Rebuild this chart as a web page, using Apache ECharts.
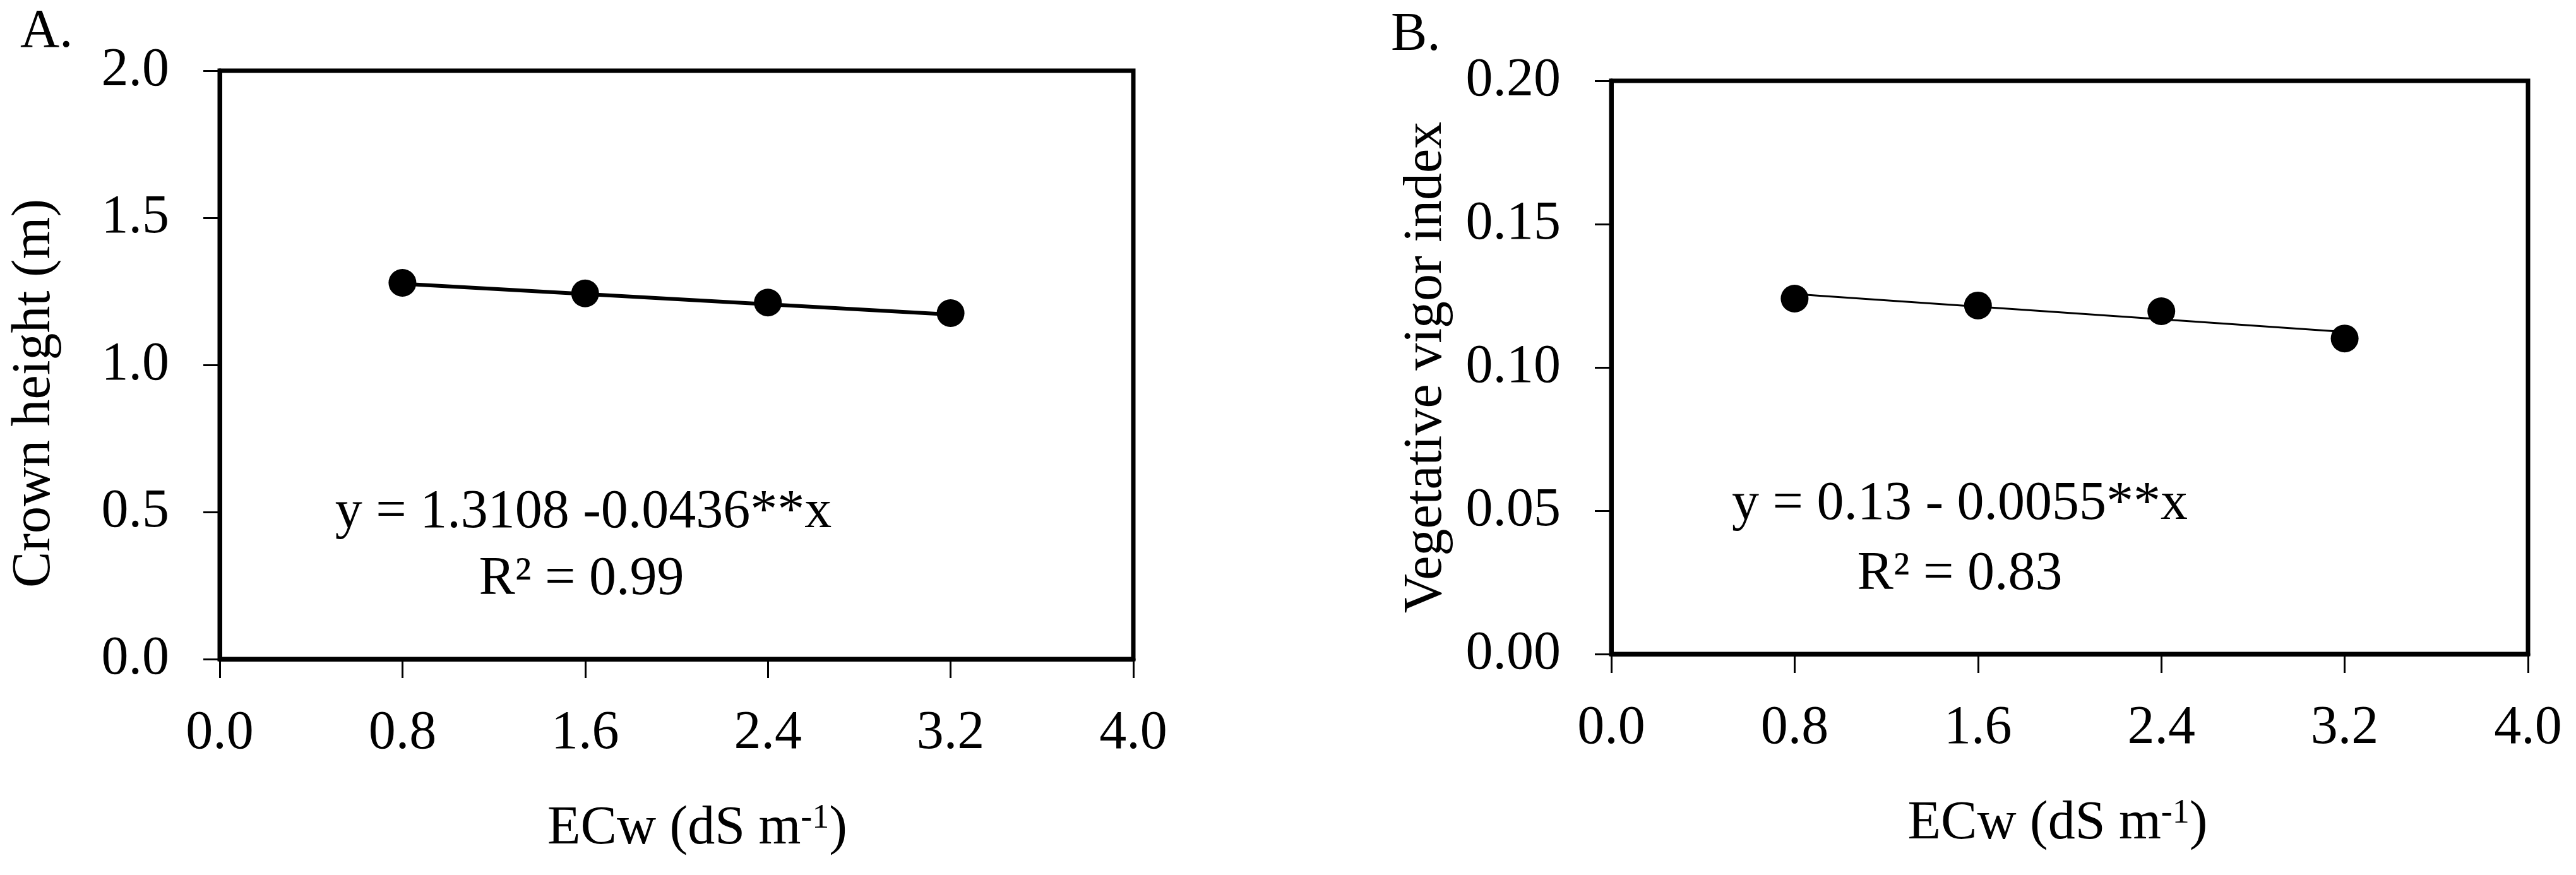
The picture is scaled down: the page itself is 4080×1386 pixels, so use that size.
<!DOCTYPE html>
<html>
<head>
<meta charset="utf-8">
<script src="https://cdn.jsdelivr.net/npm/echarts@6/dist/echarts.min.js"></script>
<style>
  html, body { margin: 0; padding: 0; background: #fff; }
  #chart { width: 4080px; height: 1386px; }
</style>
</head>
<body>
<div id="chart"></div>
<script>
// ECw levels (dS m-1)
const ecw = [0.8, 1.6, 2.4, 3.2]
// A. crown height (m)
const crownHeight = [1.279, 1.243, 1.212, 1.176]
// B. vegetative vigor index
const vigorIndex = [0.124, 0.1216, 0.1196, 0.1101]
// fitted lines, read at the first and last ECw level
const trendX = [0.8, 3.2]
const crownTrend = [1.276, 1.171]
const vigorTrend = [0.1256, 0.1124]

const FONT = 'Liberation Serif'
const FS = 86

const pairs = (xs, ys) => xs.map((x, i) => [x, ys[i]])

function xAxisFor(gridIndex, shift) {
  return {
    gridIndex: gridIndex,
    type: 'value',
    min: 0,
    max: 4,
    interval: 0.8,
    name: 'ECw (dS m{sup|-1})',
    nameLocation: 'middle',
    nameGap: 226,
    nameTextStyle: {
      fontFamily: FONT,
      fontSize: FS,
      color: '#000',
      lineHeight: 86,
      padding: shift > 0 ? [0, 0, 0, shift * 2] : [0, -shift * 2, 0, 0],
      rich: {
        sup: { fontFamily: FONT, fontSize: 54, lineHeight: 54, verticalAlign: 'top', color: '#000' },
      },
    },
    axisLine: { show: true, onZero: false, lineStyle: { color: '#000', width: 7 } },
    axisTick: { show: true, inside: false, length: 30, lineStyle: { color: '#000', width: 3 } },
    axisLabel: {
      margin: 75,
      fontFamily: FONT,
      fontSize: FS,
      color: '#000',
      formatter: (v) => v.toFixed(1),
    },
    splitLine: { show: false },
  }
}

function yAxisFor(gridIndex, opts) {
  return {
    gridIndex: gridIndex,
    type: 'value',
    min: 0,
    max: opts.max,
    interval: opts.interval,
    name: opts.name,
    nameLocation: 'middle',
    nameGap: 250,
    nameTextStyle: {
      fontFamily: FONT,
      fontSize: FS,
      color: '#000',
      padding: opts.namePad,
    },
    axisLine: { show: true, onZero: false, lineStyle: { color: '#000', width: 7 } },
    axisTick: { show: true, inside: false, length: 26, lineStyle: { color: '#000', width: 3 } },
    axisLabel: {
      margin: 80,
      fontFamily: FONT,
      fontSize: FS,
      color: '#000',
      formatter: (v) => v.toFixed(opts.digits),
    },
    splitLine: { show: false },
  }
}

const option = {
  backgroundColor: '#fff',
  animation: false,
  grid: [
    { left: 348, top: 112, width: 1447, height: 932, show: true, borderColor: '#000', borderWidth: 7, backgroundColor: 'transparent' },
    { left: 2552, top: 128, width: 1452, height: 908, show: true, borderColor: '#000', borderWidth: 7, backgroundColor: 'transparent' },
  ],
  xAxis: [xAxisFor(0, 33), xAxisFor(1, -19)],
  yAxis: [
    yAxisFor(0, { max: 2, interval: 0.5, digits: 1, name: 'Crown height (m)', namePad: [0, 90, 0, 0] }),
    yAxisFor(1, { max: 0.2, interval: 0.05, digits: 2, name: 'Vegetative vigor index', namePad: 0 }),
  ],
  series: [
    {
      type: 'line',
      xAxisIndex: 0,
      yAxisIndex: 0,
      data: pairs(trendX, crownTrend),
      showSymbol: false,
      lineStyle: { color: '#000', width: 6 },
      z: 2,
    },
    {
      type: 'scatter',
      xAxisIndex: 0,
      yAxisIndex: 0,
      data: pairs(ecw, crownHeight),
      symbol: 'circle',
      symbolSize: 44,
      itemStyle: { color: '#000', opacity: 1 },
      z: 3,
    },
    {
      type: 'line',
      xAxisIndex: 1,
      yAxisIndex: 1,
      data: pairs(trendX, vigorTrend),
      showSymbol: false,
      lineStyle: { color: '#000', width: 3 },
      z: 2,
    },
    {
      type: 'scatter',
      xAxisIndex: 1,
      yAxisIndex: 1,
      data: pairs(ecw, vigorIndex),
      symbol: 'circle',
      symbolSize: 44,
      itemStyle: { color: '#000', opacity: 1 },
      z: 3,
    },
  ],
  graphic: [
    { type: 'text', left: 32, top: 8, style: { text: 'A.', font: FS + 'px "' + FONT + '"', fill: '#000' } },
    { type: 'text', left: 2203, top: 13, style: { text: 'B.', font: FS + 'px "' + FONT + '"', fill: '#000' } },
    { type: 'text', x: 924, y: 812, style: { text: 'y = 1.3108 -0.0436**x', font: FS + 'px "' + FONT + '"', fill: '#000', align: 'center', verticalAlign: 'middle' } },
    { type: 'text', x: 921, y: 918, style: { text: 'R² = 0.99', font: FS + 'px "' + FONT + '"', fill: '#000', align: 'center', verticalAlign: 'middle' } },
    { type: 'text', x: 3104, y: 799, style: { text: 'y = 0.13 - 0.0055**x', font: FS + 'px "' + FONT + '"', fill: '#000', align: 'center', verticalAlign: 'middle' } },
    { type: 'text', x: 3104, y: 910, style: { text: 'R² = 0.83', font: FS + 'px "' + FONT + '"', fill: '#000', align: 'center', verticalAlign: 'middle' } },
  ],
}

const chart = echarts.init(document.getElementById('chart'))
chart.setOption(option)
</script>
</body>
</html>
